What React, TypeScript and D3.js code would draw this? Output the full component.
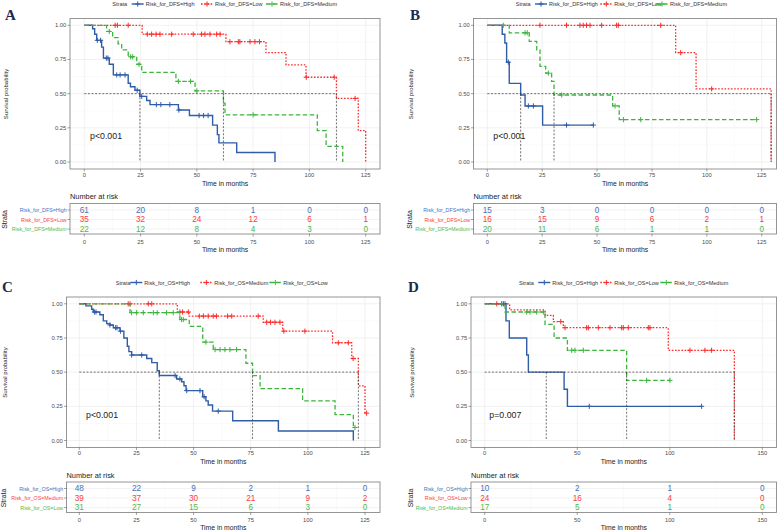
import React from 'react'
import * as d3 from 'd3'

type Step = [number, number]

// ---- A: disease-free survival ----
const timesA = [0, 25, 50, 75, 100, 125]
const labelsA = ['Risk_for_DFS=High', 'Risk_for_DFS=Low', 'Risk_for_DFS=Medium']
const stepsAHigh: Step[] = [[0, 1], [3.7, 0.975], [4.6, 0.935], [5.5, 0.89], [7.7, 0.84], [8.5, 0.76], [11.1, 0.715], [12.9, 0.637], [19.5, 0.576], [20.5, 0.55], [22.5, 0.525], [24.7, 0.48], [27.7, 0.45], [29.2, 0.42], [41.8, 0.38], [46.7, 0.34], [57, 0.27], [59.1, 0.2], [59.8, 0.14], [67.7, 0.07], [84.7, 0]]
const censorAHigh = [5.8, 7.2, 9.8, 10.5, 14.4, 15.9, 18.1, 23.5, 25.5, 32, 34, 38, 42, 51, 53, 55]
const stepsALow: Step[] = [[0, 1], [25.7, 0.935], [62.9, 0.88], [80.7, 0.8], [89.6, 0.71], [98.5, 0.62], [112, 0.465], [121.7, 0.23], [125, 0]]
const censorALow = [13.7, 14.7, 19.5, 28, 29.9, 31.9, 33.6, 38.8, 48.4, 52.1, 53.6, 55.8, 58.8, 60.3, 64.7, 68.4, 69.1, 73.6, 75.8, 77.8, 98.6, 111, 120.3]
const stepsAMedium: Step[] = [[0, 1], [9.9, 0.955], [12.6, 0.91], [15, 0.865], [16.6, 0.82], [19.5, 0.77], [23.3, 0.715], [25.5, 0.656], [40.7, 0.59], [49.2, 0.52], [61.8, 0.43], [62.5, 0.345], [103.5, 0.23], [107.4, 0.115], [114.8, 0]]
const censorAMedium = [11.1, 20.6, 21.5, 24.3, 41.8, 47.2, 50, 75]
const riskAHigh = [61, 20, 8, 1, 0, 0]
const riskALow = [35, 32, 24, 12, 6, 1]
const riskAMedium = [22, 12, 8, 4, 3, 0]

// ---- B: disease-free survival, second cohort ----
const timesB = [0, 25, 50, 75, 100, 125]
const labelsB = ['Risk_for_DFS=High', 'Risk_for_DFS=Low', 'Risk_for_DFS=Medium']
const stepsBHigh: Step[] = [[0, 1], [6.8, 0.935], [8, 0.87], [8.8, 0.73], [10, 0.575], [15.2, 0.49], [17.2, 0.41], [25.2, 0.27]]
const censorBHigh = [9.6, 18.7, 21, 36.1, 48.3]
const stepsBLow: Step[] = [[0, 1], [85.8, 0.8], [95.1, 0.535], [129.3, 0]]
const censorBLow = [24, 36.1, 42.2, 43.7, 45.2, 46.8, 52.1, 58.9, 59.7, 79, 88.1, 102.2]
const stepsBMedium: Step[] = [[0, 1], [10, 0.945], [19.1, 0.883], [22.5, 0.82], [24, 0.7], [26.6, 0.65], [29.3, 0.59], [30.4, 0.49], [57.1, 0.41], [60.1, 0.31]]
const censorBMedium = [7.3, 17.2, 18.2, 27.8, 33.9, 58.2, 62, 69.9, 122.7]
const riskBHigh = [15, 3, 0, 0, 0, 0]
const riskBLow = [16, 15, 9, 6, 2, 1]
const riskBMedium = [20, 11, 6, 1, 1, 0]

// ---- C: overall survival ----
const timesC = [0, 25, 50, 75, 100, 125]
const labelsC = ['Risk_for_OS=High', 'Risk_for_OS=Medium', 'Risk_for_OS=Low']
const stepsCHigh: Step[] = [[0, 1], [2.9, 0.985], [5.4, 0.96], [6.1, 0.94], [9, 0.92], [10.5, 0.875], [12, 0.855], [13.4, 0.845], [14.9, 0.825], [17.8, 0.8], [19.5, 0.75], [21, 0.69], [21.7, 0.65], [22.9, 0.625], [29.5, 0.6], [31.7, 0.57], [34.1, 0.51], [35, 0.475], [42.6, 0.45], [44.8, 0.43], [45.8, 0.4], [46.7, 0.365], [54, 0.32], [55.4, 0.29], [56.4, 0.26], [58.3, 0.215], [67.1, 0.145], [87.1, 0.07], [119.9, 0]]
const censorCHigh = [6.6, 7.3, 13.4, 15.9, 16.5, 18, 22.9, 27.3, 41.9, 44, 47, 52.8, 54.6, 60.8]
const stepsCMedium: Step[] = [[0, 1], [42.9, 0.94], [48.1, 0.91], [80.5, 0.865], [89, 0.8], [110.8, 0.715], [119.2, 0.6], [122.1, 0.4], [125, 0.2]]
const censorCMedium = [21.4, 22.2, 30.2, 31.7, 44, 45.2, 47.7, 52.5, 54.3, 56.4, 58.6, 60, 64.9, 66.7, 78.3, 82, 83.7, 85.6, 87.8, 89.5, 98.7, 113.3, 117.7, 119.8, 125.7]
const stepsCLow: Step[] = [[0, 1], [22.2, 0.935], [44, 0.885], [48.1, 0.835], [54, 0.72], [58.6, 0.665], [72.9, 0.565], [75.8, 0.475], [79.1, 0.38], [97.7, 0.29], [111.9, 0.19], [119.9, 0.095]]
const censorCLow = [22.9, 25.1, 28, 32.4, 34.1, 38.2, 41.1, 44.7, 45.5, 55.4, 59.4, 61.6, 63.7, 65.9, 68.8, 120.6]
const riskCHigh = [48, 22, 9, 2, 1, 0]
const riskCMedium = [39, 37, 30, 21, 9, 2]
const riskCLow = [31, 27, 15, 6, 3, 0]

// ---- D: overall survival, second cohort ----
const timesD = [0, 50, 100, 150]
const labelsD = ['Risk_for_OS=High', 'Risk_for_OS=Low', 'Risk_for_OS=Medium']
const stepsDHigh: Step[] = [[0, 1], [11.5, 0.875], [13.3, 0.75], [22.7, 0.625], [23.6, 0.5], [42.9, 0.375], [44.7, 0.25]]
const censorDHigh = [9.2, 10.1, 11, 56.5, 117.2]
const stepsDLow: Step[] = [[0, 1], [13.5, 0.955], [32.6, 0.915], [37.1, 0.87], [42.5, 0.825], [99.2, 0.66], [134.9, 0]]
const censorDLow = [6.5, 41.1, 43.4, 55.1, 56, 61.4, 67.7, 74, 74.9, 77.6, 88.4, 89.3, 110.9, 119, 122.6]
const stepsDMedium: Step[] = [[0, 1], [11, 0.94], [32.6, 0.85], [37.5, 0.75], [44.7, 0.66], [76.7, 0.44]]
const censorDMedium = [22.7, 24.5, 28.1, 31.7, 47, 48.8, 53.3, 87.5, 100.1]
const riskDHigh = [10, 2, 1, 0]
const riskDLow = [24, 16, 4, 0]
const riskDMedium = [17, 5, 1, 0]

const FONT = "'Liberation Sans', Arial, Helvetica, sans-serif"
const STYLES = [
  { color: '#2f5da6', dash: undefined as string | undefined, width: 1.4 },
  { color: '#ff2b2b', dash: '1.6,1.6', width: 1.3 },
  { color: '#3db53d', dash: '4.5,2.5', width: 1.3 },
]
const TABLE_COLORS = ['#3f72b8', '#ff3b3b', '#52b84a']

type Strata = { label: string; steps: Step[]; censor: number[]; risk: number[] }
type Panel = {
  letter: string; letterX: number; letterY: number; pt: number
  left: number; right: number; x0: number; x1: number; tickMax: number; times: number[]
  legendX: number; legendTextX: number[]; ylabX: number; pText: string; pX: number
  strata: Strata[]
}

const build = (labels: string[], steps: Step[][], censor: number[][], risk: number[][]): Strata[] =>
  labels.map((label, i) => ({ label, steps: steps[i], censor: censor[i], risk: risk[i] }))

const panels: Panel[] = [
  {
    letter: 'A', letterX: 5, letterY: 15, pt: 18.5, left: 70, right: 380, x0: 84.3, x1: 365.7, tickMax: 125, times: timesA,
    legendX: 112.3, legendTextX: [145.7, 215, 280], ylabX: 6, pText: 'p<0.001', pX: 90,
    strata: build(labelsA, [stepsAHigh, stepsALow, stepsAMedium], [censorAHigh, censorALow, censorAMedium], [riskAHigh, riskALow, riskAMedium]),
  },
  {
    letter: 'B', letterX: 410, letterY: 15, pt: 18.5, left: 473.5, right: 776.5, x0: 487.3, x1: 761.7, tickMax: 125, times: timesB,
    legendX: 515.7, legendTextX: [549, 614.3, 670], ylabX: 411, pText: 'p<0.001', pX: 493.3,
    strata: build(labelsB, [stepsBHigh, stepsBLow, stepsBMedium], [censorBHigh, censorBLow, censorBMedium], [riskBHigh, riskBLow, riskBMedium]),
  },
  {
    letter: 'C', letterX: 2, letterY: 287, pt: 297, left: 66.5, right: 380, x0: 79.3, x1: 365, tickMax: 125, times: timesC,
    legendX: 115.7, legendTextX: [144.3, 214.3, 283.3], ylabX: 5, pText: 'p<0.001', pX: 86,
    strata: build(labelsC, [stepsCHigh, stepsCMedium, stepsCLow], [censorCHigh, censorCMedium, censorCLow], [riskCHigh, riskCMedium, riskCLow]),
  },
  {
    letter: 'D', letterX: 408, letterY: 287, pt: 297, left: 471, right: 776.5, x0: 484.7, x1: 762.3, tickMax: 150, times: timesD,
    legendX: 519, legendTextX: [552.3, 614.3, 674.3], ylabX: 412, pText: 'p=0.007', pX: 489.3,
    strata: build(labelsD, [stepsDHigh, stepsDLow, stepsDMedium], [censorDHigh, censorDLow, censorDMedium], [riskDHigh, riskDLow, riskDMedium]),
  },
]

function survAt(steps: Step[], t: number) {
  let s = 1
  for (const [ti, si] of steps) {
    if (ti <= t) s = si
    else break
  }
  return s
}

// first time the curve reaches 0.5 (midpoint when it sits exactly on 0.5)
function medianOf(steps: Step[]) {
  for (let i = 0; i < steps.length; i++) {
    const [t, s] = steps[i]
    if (Math.abs(s - 0.5) < 1e-6) return i + 1 < steps.length ? (t + steps[i + 1][0]) / 2 : t
    if (s < 0.5) return t
  }
  return null
}

const plus = (cx: number, cy: number, r = 2.6) => `M${cx - r},${cy}H${cx + r}M${cx},${cy - r}V${cy + r}`

function KMPanel({ p }: { p: Panel }) {
  const pt = p.pt
  const pb = pt + 150.5
  const step = p.times[1] - p.times[0]
  const x = d3.scaleLinear().domain([0, p.tickMax]).range([p.x0, p.x1])
  const y = d3.scaleLinear().domain([0, 1]).range([pt + 143.5, pt + 6.8])
  const xMax = x.invert(p.right)
  const majorX = p.times
  const minorX = d3.range(step / 2, xMax, step)
  const yTicks = [0, 0.25, 0.5, 0.75, 1]
  const yMinor = [0.125, 0.375, 0.625, 0.875]
  const line = d3.line<Step>().x((d) => x(d[0])).y((d) => y(d[1])).curve(d3.curveStepAfter)

  const medians = p.strata.map((s) => medianOf(s.steps)).filter((m): m is number => m !== null)
  const maxMedian = d3.max(medians) ?? 0

  // risk table geometry
  const bt = pt + 185
  const bb = pt + 215.5
  const rows = [pt + 191.5, pt + 201, pt + 210.6]

  const gridStroke = '#ebebeb'
  const minorStroke = '#f4f4f4'
  const tickColor = '#4d4d4d'
  const midX = (p.left + Math.min(p.right, 777)) / 2

  return (
    <g>
      <text x={p.letterX} y={p.letterY} dominantBaseline="central" fontFamily="'Liberation Serif', 'DejaVu Serif', serif" fontWeight="bold" fontSize={15} fill="#1c2a4e">{p.letter}</text>

      {/* legend */}
      <text x={p.legendX} y={pt - 14.5} dominantBaseline="central" fontFamily={FONT} fontSize={5.6} fill="#333">Strata</text>
      {p.strata.map((s, i) => {
        const tx = p.legendTextX[i]
        const st = STYLES[i]
        return (
          <g key={s.label}>
            <line x1={tx - 14} x2={tx - 2} y1={pt - 14.5} y2={pt - 14.5} stroke={st.color} strokeWidth={st.width} strokeDasharray={st.dash} />
            <path d={plus(tx - 8, pt - 14.5)} stroke={st.color} strokeWidth={1} />
            <text x={tx} y={pt - 14.5} dominantBaseline="central" fontFamily={FONT} fontSize={5.5} fill="#333">{s.label}</text>
          </g>
        )
      })}

      {/* plot panel */}
      <rect x={p.left} y={pt} width={p.right - p.left} height={pb - pt} fill="#fff" />
      {minorX.map((t) => <line key={'mx' + t} x1={x(t)} x2={x(t)} y1={pt} y2={pb} stroke={minorStroke} strokeWidth={0.5} />)}
      {yMinor.map((v) => <line key={'my' + v} x1={p.left} x2={p.right} y1={y(v)} y2={y(v)} stroke={minorStroke} strokeWidth={0.5} />)}
      {majorX.map((t) => <line key={'gx' + t} x1={x(t)} x2={x(t)} y1={pt} y2={pb} stroke={gridStroke} strokeWidth={0.7} />)}
      {yTicks.map((v) => <line key={'gy' + v} x1={p.left} x2={p.right} y1={y(v)} y2={y(v)} stroke={gridStroke} strokeWidth={0.7} />)}

      {p.strata.map((s, i) => {
        const st = STYLES[i]
        const last = s.steps[s.steps.length - 1]
        const tEnd = Math.max(last[0], d3.max(s.censor) ?? 0)
        const pts: Step[] = tEnd > last[0] ? [...s.steps, [tEnd, last[1]]] : s.steps
        return (
          <g key={'c' + s.label}>
            <path d={line(pts) ?? ''} fill="none" stroke={st.color} strokeWidth={st.width} strokeDasharray={st.dash} />
            {s.censor.map((t, k) => (
              <path key={k} d={plus(x(t), y(survAt(s.steps, t)))} stroke={st.color} strokeWidth={1} />
            ))}
          </g>
        )
      })}

      {/* median survival guides */}
      <line x1={x(0)} x2={x(maxMedian)} y1={y(0.5)} y2={y(0.5)} stroke="#333" strokeWidth={0.7} strokeDasharray="2,1.6" />
      {medians.map((m, i) => (
        <line key={'md' + i} x1={x(m)} x2={x(m)} y1={y(0.5)} y2={y(0)} stroke="#333" strokeWidth={0.7} strokeDasharray="2,1.6" />
      ))}

      <text x={p.pX} y={pt + 117.5} dominantBaseline="central" fontFamily={FONT} fontSize={8.8} fill="#222">{p.pText}</text>

      <rect x={p.left} y={pt} width={p.right - p.left} height={pb - pt} fill="none" stroke="#8a8a8a" strokeWidth={0.9} />

      {/* axes */}
      {yTicks.map((v) => (
        <g key={'yt' + v}>
          <line x1={p.left - 2.5} x2={p.left} y1={y(v)} y2={y(v)} stroke="#444" strokeWidth={0.5} />
          <text x={p.left - 3.8} y={y(v)} textAnchor="end" dominantBaseline="central" fontFamily={FONT} fontSize={5.8} fill={tickColor}>{v.toFixed(2)}</text>
        </g>
      ))}
      {majorX.map((t) => (
        <g key={'xt' + t}>
          <line x1={x(t)} x2={x(t)} y1={pb} y2={pb + 2.5} stroke="#444" strokeWidth={0.5} />
          <text x={x(t)} y={pt + 156} textAnchor="middle" dominantBaseline="central" fontFamily={FONT} fontSize={5.8} fill={tickColor}>{t}</text>
        </g>
      ))}
      <text x={midX} y={pt + 164.5} textAnchor="middle" dominantBaseline="central" fontFamily={FONT} fontSize={6.8} fill="#222">Time in months</text>
      <text transform={`translate(${p.ylabX},${pt + 75.5}) rotate(-90)`} textAnchor="middle" dominantBaseline="central" fontFamily={FONT} fontSize={6} fill="#222">Survival probability</text>

      {/* number at risk table */}
      <text x={p.left} y={pt + 178} dominantBaseline="central" fontFamily={FONT} fontSize={7.4} fill="#222">Number at risk</text>
      <rect x={p.left} y={bt} width={p.right - p.left} height={bb - bt} fill="#fff" />
      {minorX.map((t) => <line key={'tmx' + t} x1={x(t)} x2={x(t)} y1={bt} y2={bb} stroke={minorStroke} strokeWidth={0.5} />)}
      {majorX.map((t) => <line key={'tgx' + t} x1={x(t)} x2={x(t)} y1={bt} y2={bb} stroke={gridStroke} strokeWidth={0.7} />)}
      {rows.map((r, i) => <line key={'tr' + i} x1={p.left} x2={p.right} y1={r} y2={r} stroke={gridStroke} strokeWidth={0.6} />)}
      {p.strata.map((s, i) =>
        s.risk.map((n, k) => (
          <text key={s.label + k} x={x(p.times[k])} y={rows[i]} textAnchor="middle" dominantBaseline="central" fontFamily={FONT} fontSize={8.2} fill={TABLE_COLORS[i]}>{n}</text>
        ))
      )}
      <rect x={p.left} y={bt} width={p.right - p.left} height={bb - bt} fill="none" stroke="#8a8a8a" strokeWidth={0.9} />
      {p.strata.map((s, i) => (
        <g key={'sl' + s.label}>
          <line x1={p.left - 2.5} x2={p.left} y1={rows[i]} y2={rows[i]} stroke="#444" strokeWidth={0.5} />
          <text x={p.left - 3.3} y={rows[i]} textAnchor="end" dominantBaseline="central" fontFamily={FONT} fontSize={5.3} fill={TABLE_COLORS[i]}>{s.label}</text>
        </g>
      ))}
      <text transform={`translate(${p.ylabX - 2},${pt + 201}) rotate(-90)`} textAnchor="middle" dominantBaseline="central" fontFamily={FONT} fontSize={7} fill="#222">Strata</text>
      {majorX.map((t) => (
        <g key={'txt' + t}>
          <line x1={x(t)} x2={x(t)} y1={bb} y2={bb + 2.5} stroke="#444" strokeWidth={0.5} />
          <text x={x(t)} y={pt + 223} textAnchor="middle" dominantBaseline="central" fontFamily={FONT} fontSize={5.8} fill={tickColor}>{t}</text>
        </g>
      ))}
      <text x={midX} y={pt + 230.5} textAnchor="middle" dominantBaseline="central" fontFamily={FONT} fontSize={6.8} fill="#222">Time in months</text>
    </g>
  )
}

export default function App() {
  return (
    <svg width={777} height={531} style={{ position: 'absolute', left: 0, top: 0, background: '#fff' }}>
      <rect width={777} height={531} fill="#fff" />
      {panels.map((p) => <KMPanel key={p.letter} p={p} />)}
    </svg>
  )
}
